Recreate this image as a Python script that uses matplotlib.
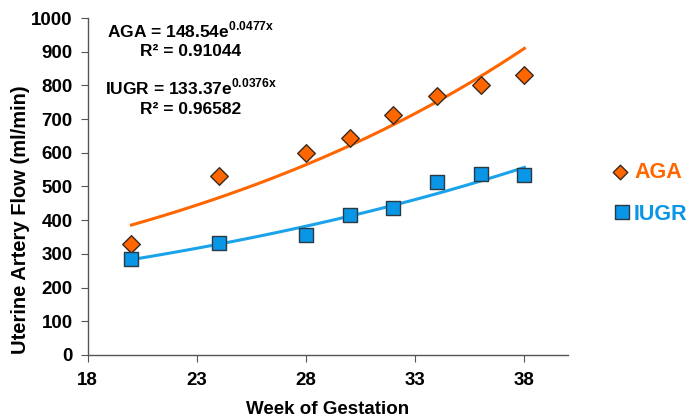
import numpy as np
import matplotlib
matplotlib.use("Agg")
import matplotlib.pyplot as plt

plt.rcParams['font.family'] = ['Liberation Sans', 'DejaVu Sans']
plt.rcParams['mathtext.fontset'] = 'custom'
plt.rcParams['mathtext.rm'] = 'Liberation Sans'
plt.rcParams['mathtext.bf'] = 'Liberation Sans:bold'

# data
weeks = [20, 24, 28, 30, 32, 34, 36, 38]
aga = [330, 530, 600, 645, 712, 770, 800, 830]
iugr = [285, 333, 357, 415, 435, 512, 537, 533]

# exponential trend lines y = a*exp(b*x) as printed on the chart
aga_a, aga_b, aga_r2 = 148.54, 0.0477, 0.91044
iugr_a, iugr_b, iugr_r2 = 133.37, 0.0376, 0.96582

orange = '#FF6600'
blue = '#0A96E6'

fig = plt.figure(figsize=(6.86, 4.2), dpi=100)
ax = fig.add_axes([0.128, 0.155, 0.70, 0.802])

xx = np.linspace(20, 38, 100)
ax.plot(xx, aga_a * np.exp(aga_b * xx), color=orange, lw=2.2, zorder=2)
ax.plot(xx, iugr_a * np.exp(iugr_b * xx), color='#1AA3EA', lw=2.2, zorder=2)

ax.scatter(weeks, aga, marker='D', s=80, color=orange, edgecolor='#3a2a20', lw=1.0, zorder=3)
ax.scatter(weeks, iugr, marker='s', s=110, color=blue, edgecolor='#2a3a45', lw=1.0, zorder=3)

ax.set_xlim(18, 40)
ax.set_ylim(0, 1000)
ax.set_xticks([18, 23, 28, 33, 38])
ax.set_yticks(range(0, 1001, 100))
for s in ['top', 'right']:
    ax.spines[s].set_visible(False)
for s in ['left', 'bottom']:
    ax.spines[s].set_color('#555555')
    ax.spines[s].set_linewidth(1.0)
ax.tick_params(axis='both', direction='out', length=5, color='#555555',
               labelsize=13.5)
ax.tick_params(axis='x', pad=7)
ax.tick_params(axis='y', pad=6)
for lab in ax.get_xticklabels() + ax.get_yticklabels():
    lab.set_fontweight('bold')

ax.set_xlabel('Week of Gestation', fontsize=13.5, fontweight='bold', labelpad=9)
ax.set_ylabel('Uterine Artery Flow (ml/min)', fontsize=14.5, fontweight='bold')
ax.yaxis.set_label_coords(-0.12, 0.40)

kw = dict(transform=ax.transAxes, ha='center', va='center', fontsize=12.5, fontweight='bold')
ax.text(0.215, 0.965, r'AGA = %.2fe$^{\mathbf{%.4fx}}$' % (aga_a, aga_b), **kw)
ax.text(0.215, 0.9, 'R² = %.5f' % aga_r2, **kw)
ax.text(0.215, 0.795, r'IUGR = %.2fe$^{\mathbf{%.4fx}}$' % (iugr_a, iugr_b), **kw)
ax.text(0.215, 0.73, 'R² = %.5f' % iugr_r2, **kw)

# legend drawn outside on the right
lax = fig.add_axes([0, 0, 1, 1], facecolor='none')
lax.set_xlim(0, 686)
lax.set_ylim(420, 0)
lax.axis('off')
lax.scatter([620], [172], marker='D', s=55, color=orange, edgecolor='#3a2a20', lw=1.0)
lax.scatter([622], [212], marker='s', s=90, color=blue, edgecolor='#2a3a45', lw=1.0)
lax.text(634, 173, 'AGA', color=orange, fontsize=15.5, fontweight='bold', va='center')
lax.text(634, 214, 'IUGR', color=blue, fontsize=15.5, fontweight='bold', va='center')

fig.savefig('out.png', dpi=100)
